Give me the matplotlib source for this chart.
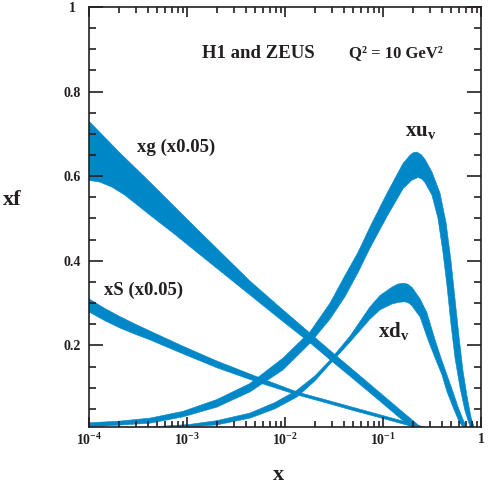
import numpy as np
import matplotlib
matplotlib.use("Agg")
import matplotlib.pyplot as plt
from matplotlib.ticker import LogLocator, MultipleLocator, NullFormatter

# -----------------------------
# Data
# -----------------------------
# xg (x0.05) band
xg_up_x = [1.0e-4, 2.07e-4, 4.19e-4, 1.36e-3, 4.40e-3, 8.89e-3, 0.0180, 0.0288, 0.0461, 0.0932,
           0.149, 0.239, 0.268]
xg_up_y = [0.730, 0.655, 0.586, 0.468, 0.352, 0.290, 0.229, 0.188, 0.148, 0.088,
           0.048, 0.008, 0.0]
xg_lo_x = [1.0e-4, 1.29e-4, 1.72e-4, 2.33e-4, 4.19e-4, 7.54e-4, 1.36e-3, 4.40e-3, 8.89e-3, 0.0180,
           0.0288, 0.0461, 0.0932, 0.149, 0.212]
xg_lo_y = [0.590, 0.586, 0.574, 0.555, 0.508, 0.462, 0.414, 0.319, 0.262, 0.206,
           0.166, 0.127, 0.068, 0.028, 0.0]

# xS (x0.05) band
xs_up_x = [1.0e-4, 1.46e-4, 2.07e-4, 2.98e-4, 4.19e-4, 9.10e-4, 2.02e-3, 5.56e-3, 0.01325, 0.0288,
           0.0461, 0.0932, 0.149, 0.340]
xs_up_y = [0.310, 0.287, 0.268, 0.250, 0.234, 0.198, 0.163, 0.123, 0.090, 0.0685,
           0.0555, 0.036, 0.023, 0.0]
xs_lo_x = [1.0e-4, 1.46e-4, 2.07e-4, 2.98e-4, 4.19e-4, 9.10e-4, 2.02e-3, 5.56e-3, 0.01325, 0.0288,
           0.0461, 0.0932, 0.149, 0.268]
xs_lo_y = [0.279, 0.258, 0.241, 0.226, 0.213, 0.180, 0.147, 0.111, 0.083, 0.0615,
           0.048, 0.029, 0.016, 0.0]

# xu_v band
xuv_up_x = [1.0e-4, 2.07e-4, 4.19e-4, 9.10e-4, 2.02e-3, 4.40e-3, 9.54e-3, 0.0180, 0.0288, 0.0409,
            0.0556, 0.0737, 0.110, 0.160, 0.189, 0.205, 0.222, 0.245, 0.268, 0.316,
            0.382, 0.440, 0.494, 0.543, 0.597, 0.655, 0.720, 0.791, 0.869]
xuv_up_y = [0.017, 0.021, 0.028, 0.044, 0.072, 0.110, 0.170, 0.232, 0.300, 0.365,
            0.420, 0.480, 0.560, 0.630, 0.650, 0.656, 0.657, 0.651, 0.640, 0.610,
            0.560, 0.490, 0.400, 0.310, 0.220, 0.140, 0.080, 0.030, 0.0]
xuv_lo_x = [1.0e-4, 4.19e-4, 9.10e-4, 2.02e-3, 4.40e-3, 9.54e-3, 0.0180, 0.0288, 0.0409, 0.0556,
            0.0737, 0.110, 0.160, 0.195, 0.228, 0.250, 0.268, 0.316, 0.364, 0.409,
            0.450, 0.494, 0.543, 0.611, 0.687, 0.791]
xuv_lo_y = [0.007, 0.016, 0.031, 0.054, 0.090, 0.142, 0.205, 0.262, 0.315, 0.372,
            0.430, 0.505, 0.570, 0.590, 0.597, 0.593, 0.585, 0.555, 0.500, 0.420,
            0.340, 0.250, 0.170, 0.100, 0.045, 0.0]

# xd_v band
xdv_up_x = [1.0e-4, 4.19e-4, 1.05e-3, 2.02e-3, 4.40e-3, 7.91e-3, 0.01325, 0.0202, 0.0288, 0.0461,
            0.0737, 0.0932, 0.124, 0.142, 0.160, 0.178, 0.198, 0.239, 0.281, 0.340,
            0.391, 0.450, 0.518, 0.582, 0.655, 0.737]
xdv_up_y = [0.005, 0.007, 0.013, 0.022, 0.040, 0.065, 0.094, 0.128, 0.165, 0.222,
            0.291, 0.318, 0.338, 0.345, 0.347, 0.345, 0.337, 0.310, 0.277, 0.213,
            0.170, 0.130, 0.090, 0.055, 0.025, 0.0]
xdv_lo_x = [1.0e-4, 4.19e-4, 1.05e-3, 2.02e-3, 4.40e-3, 7.91e-3, 0.01325, 0.0202, 0.0288, 0.0461,
            0.0737, 0.0932, 0.124, 0.146, 0.168, 0.183, 0.198, 0.239, 0.288, 0.340,
            0.400, 0.450, 0.518, 0.597, 0.687]
xdv_lo_y = [0.003, 0.004, 0.007, 0.012, 0.028, 0.050, 0.078, 0.116, 0.156, 0.208,
            0.262, 0.284, 0.298, 0.302, 0.303, 0.300, 0.293, 0.267, 0.213, 0.170,
            0.130, 0.090, 0.054, 0.020, 0.0]

x_ticks = [1e-4, 1e-3, 1e-2, 1e-1, 1]
x_tick_labels = [r'$10^{-4}$', r'$10^{-3}$', r'$10^{-2}$', r'$10^{-1}$', '1']
y_ticks = [0.2, 0.4, 0.6, 0.8, 1.0]
y_tick_labels = ['0.2', '0.4', '0.6', '0.8', '1']

# -----------------------------
# Style
# -----------------------------
plt.rcParams['font.family'] = ['Liberation Serif', 'DejaVu Serif']
plt.rcParams['font.weight'] = 'bold'
plt.rcParams['mathtext.fontset'] = 'custom'
plt.rcParams['mathtext.rm'] = 'Liberation Serif:bold'
plt.rcParams['mathtext.it'] = 'Liberation Serif:bold'
plt.rcParams['mathtext.bf'] = 'Liberation Serif:bold'

blue = '#0087c7'
ink = '#231f20'

fig = plt.figure(figsize=(4.91, 4.88), dpi=100)
ax = fig.add_axes([89/491, 1-427/488, 392/491, 420/488])

# -----------------------------
# Bands
# -----------------------------
bands = [
    (xg_up_x, xg_up_y, xg_lo_x, xg_lo_y),
    (xs_up_x, xs_up_y, xs_lo_x, xs_lo_y),
    (xuv_up_x, xuv_up_y, xuv_lo_x, xuv_lo_y),
    (xdv_up_x, xdv_up_y, xdv_lo_x, xdv_lo_y),
]
for ux, uy, lx, ly in bands:
    px = np.concatenate([ux, lx[::-1]])
    py = np.concatenate([uy, ly[::-1]])
    ax.fill(px, py, facecolor=blue, edgecolor=blue, lw=0.4, joinstyle='round')

# -----------------------------
# Axes
# -----------------------------
ax.set_xscale('log')
ax.set_xlim(1e-4, 1)
ax.set_ylim(0.007, 1.0)

ax.set_xticks(x_ticks)
ax.set_xticklabels(x_tick_labels, fontsize=10)
ax.xaxis.set_minor_locator(LogLocator(base=10, subs=np.arange(2, 10)))
ax.xaxis.set_minor_formatter(NullFormatter())

ax.set_yticks(y_ticks)
ax.set_yticklabels(y_tick_labels, fontsize=10)
ax.yaxis.set_minor_locator(MultipleLocator(0.05))
for lbl in ax.get_yticklabels():
    lbl.set_ha('center')

ax.tick_params(which='both', direction='in', top=True, right=True,
               width=1.2, color=ink, labelcolor=ink)
ax.tick_params(axis='y', which='major', length=10, pad=12)
ax.tick_params(axis='y', which='minor', length=5)
ax.tick_params(axis='x', which='major', length=7, pad=4)
ax.tick_params(axis='x', which='minor', length=4.5)

for s in ax.spines.values():
    s.set_linewidth(1.2)
    s.set_color(ink)

# -----------------------------
# Labels
# -----------------------------
fig.text(12/491, 1-200/488, 'xf', fontsize=16, ha='center', va='center', color=ink)
fig.text(278/491, 1-475/488, 'x', fontsize=16, ha='center', va='center', color=ink)

ax.text(0.431, 0.890, 'H1 and ZEUS', transform=ax.transAxes,
        fontsize=13.5, ha='center', va='center', color=ink)
ax.text(0.783, 0.890, 'Q² = 10 GeV²', transform=ax.transAxes,
        fontsize=12, ha='center', va='center', color=ink)

ax.text(7.7e-4, 0.669, 'xg (x0.05)', fontsize=13.5, ha='center', va='center', color=ink)
ax.text(3.64e-4, 0.331, 'xS (x0.05)', fontsize=13.5, ha='center', va='center', color=ink)
ax.text(0.24, 0.708, r'$xu_v$', fontsize=15, ha='center', va='center', color=ink)
ax.text(0.129, 0.234, r'$xd_v$', fontsize=15, ha='center', va='center', color=ink)

fig.savefig('out.png', dpi=100)
